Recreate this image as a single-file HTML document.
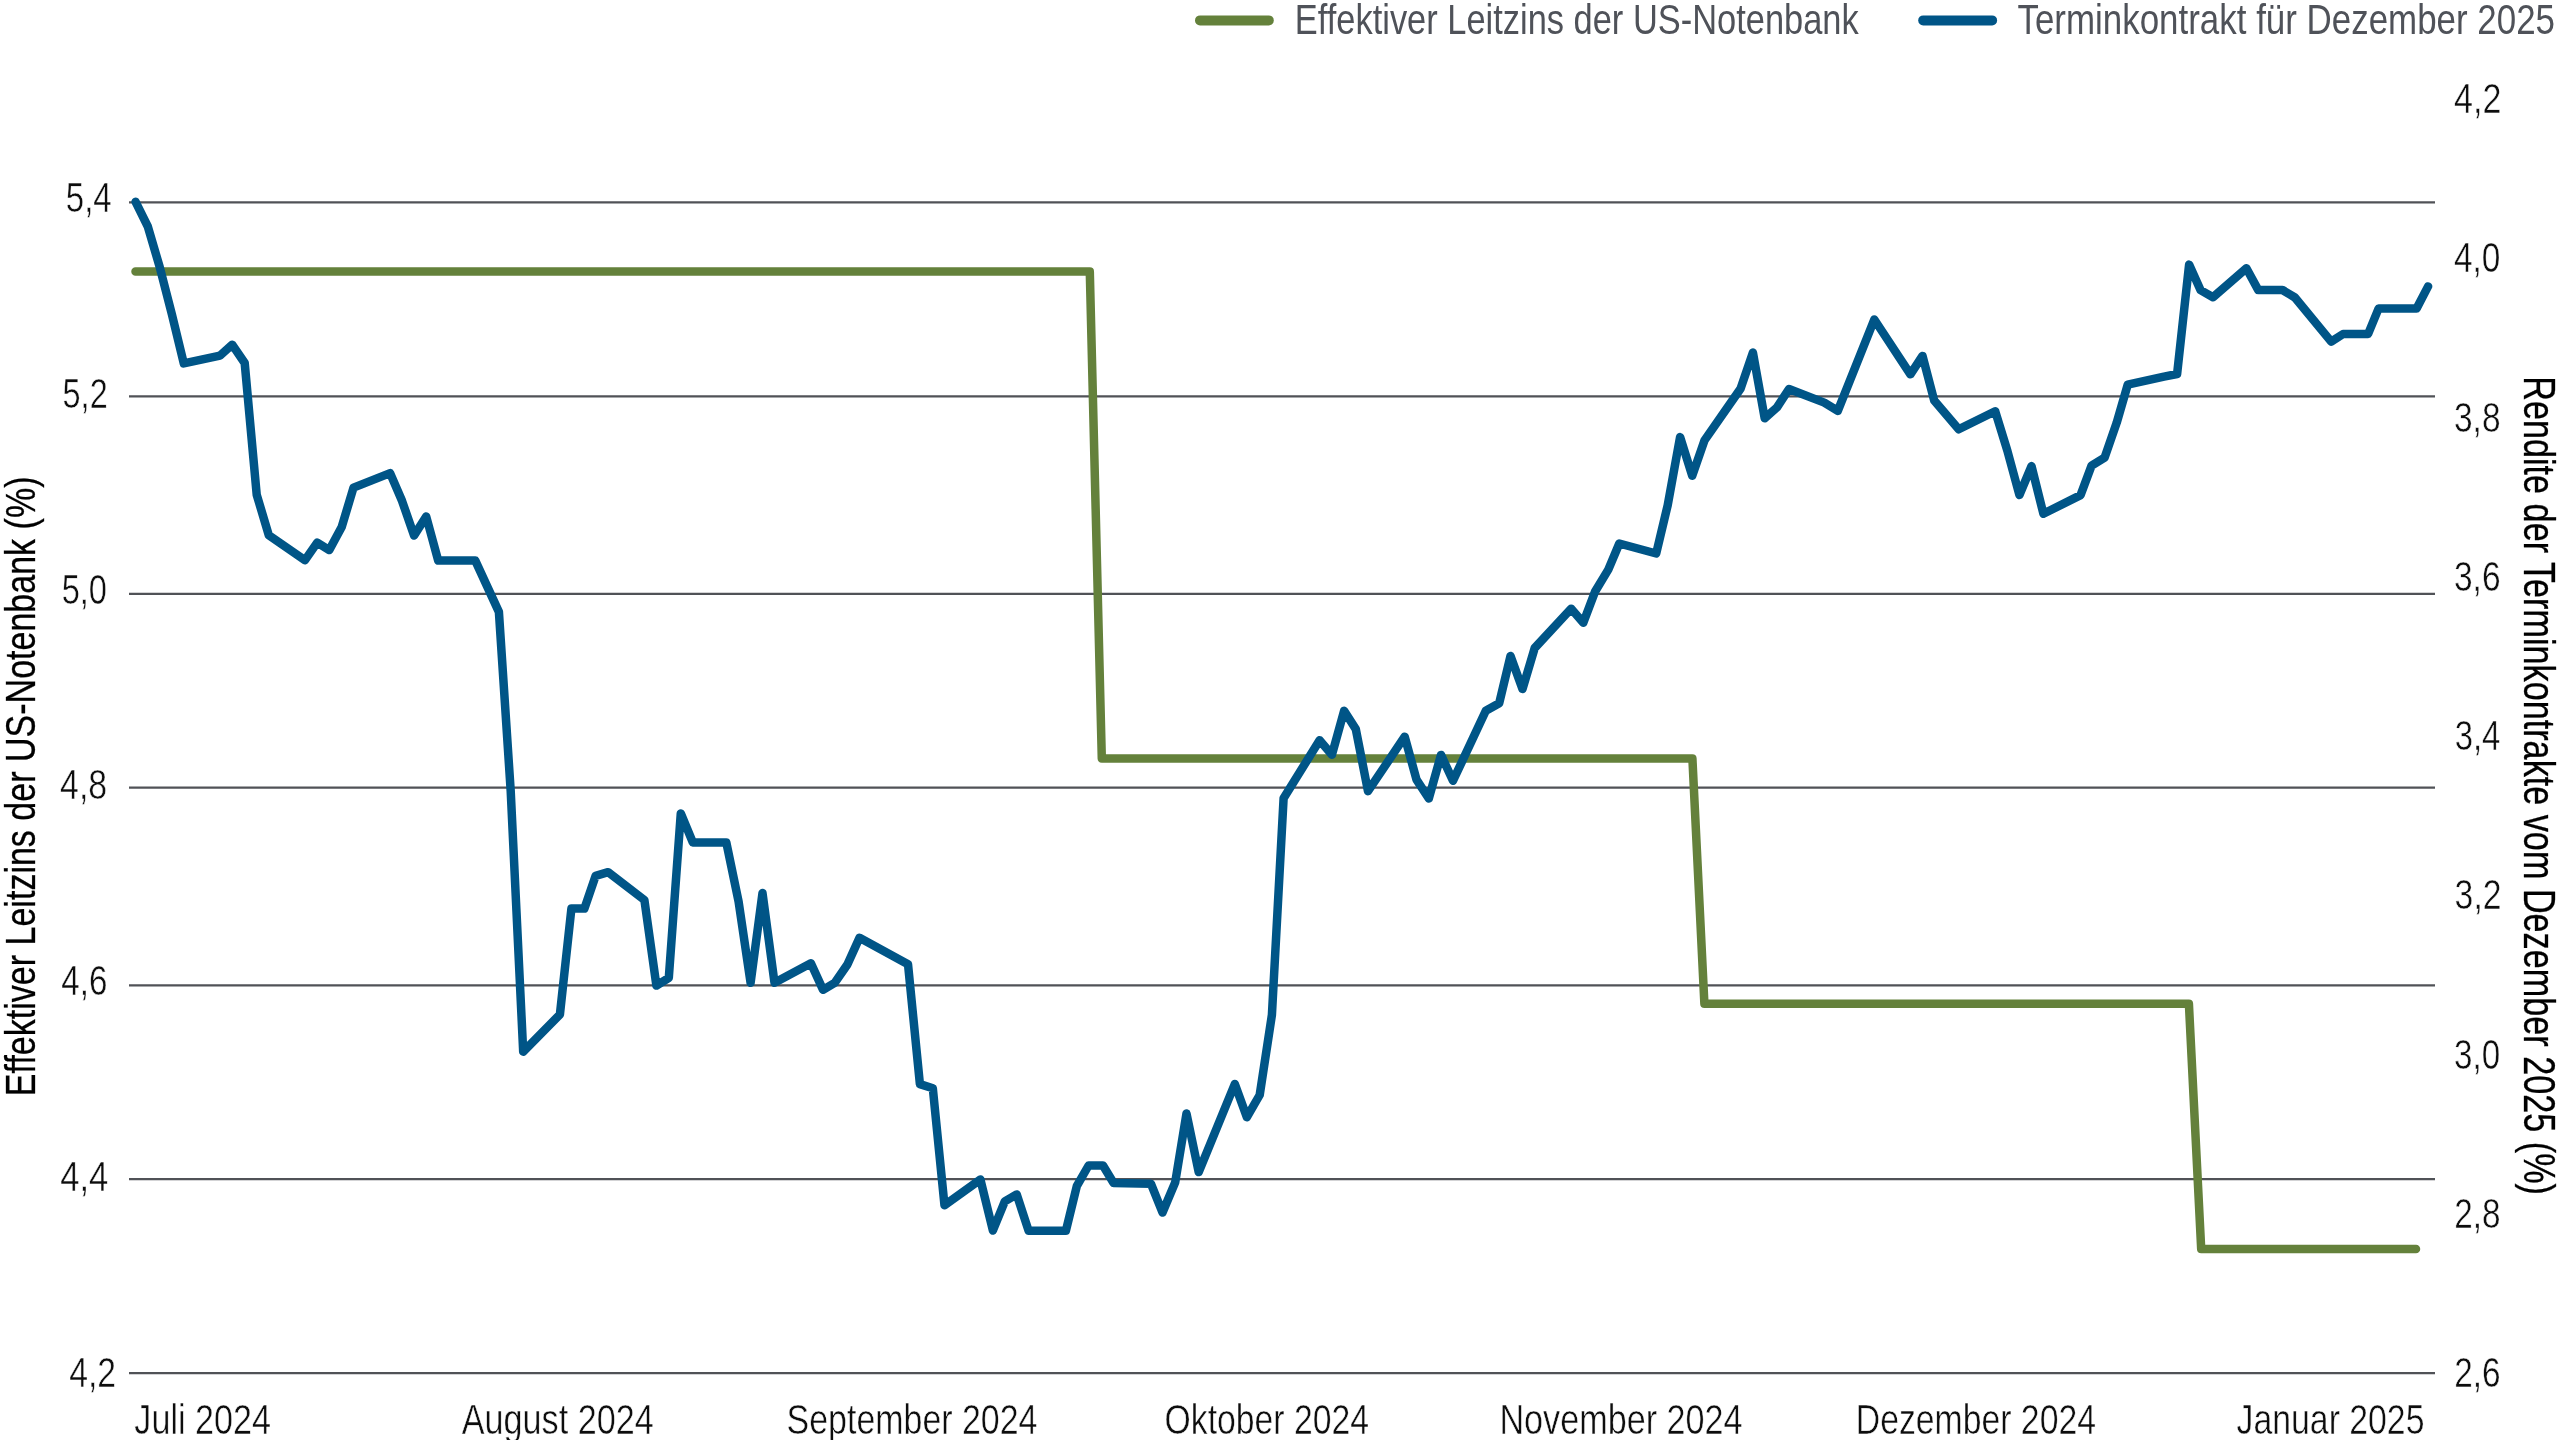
<!DOCTYPE html>
<html lang="de">
<head>
<meta charset="utf-8">
<title>Effektiver Leitzins der US-Notenbank und Terminkontrakt für Dezember 2025</title>
<style>
html,body{margin:0;padding:0;background:#fff;}
body{width:2560px;height:1440px;overflow:hidden;}
svg{display:block;will-change:transform;}
text{font-family:"Liberation Sans",sans-serif;}
.lg{fill:#4f5259;}
.tk{fill:#0d0d0d;stroke:#fff;stroke-width:0.5px;}
.ti{fill:#000;stroke:#000;stroke-width:0.3px;}
.grid line{stroke:#505257;stroke-width:2.2;}
</style>
</head>
<body>
<svg width="2560" height="1440" viewBox="0 0 2560 1440">
<rect width="2560" height="1440" fill="#ffffff"/>
<g class="grid">
<line x1="129.0" y1="202.30" x2="2435.0" y2="202.30"/>
<line x1="129.0" y1="396.30" x2="2435.0" y2="396.30"/>
<line x1="129.0" y1="593.90" x2="2435.0" y2="593.90"/>
<line x1="129.0" y1="787.60" x2="2435.0" y2="787.60"/>
<line x1="129.0" y1="985.40" x2="2435.0" y2="985.40"/>
<line x1="129.0" y1="1179.10" x2="2435.0" y2="1179.10"/>
<line x1="129.0" y1="1373.20" x2="2435.0" y2="1373.20"/>
</g>
<line x1="1200" y1="20.4" x2="1268.8" y2="20.4" stroke="#64813b" stroke-width="10" stroke-linecap="round"/>
<line x1="1923.2" y1="20.4" x2="1992.1" y2="20.4" stroke="#005587" stroke-width="10" stroke-linecap="round"/>
<path d="M135.5,271.6 L1089.8,271.6 L1101.8,758.5 L1692.4,758.5 L1704.4,1003.8 L2188.9,1003.8 L2201.2,1249.0 L2416.0,1249.0" fill="none" stroke="#64813b" stroke-width="8.5" stroke-linecap="round" stroke-linejoin="round"/>
<path d="M135.6,201.8 L147.8,226.5 L159.7,267.0 L171.8,314.0 L183.8,363.4 L220.0,355.6 L232.2,344.7 L244.7,363.0 L256.7,494.7 L268.8,535.3 L305.0,560.2 L317.2,542.6 L329.3,550.1 L341.7,527.0 L353.5,487.6 L390.1,473.1 L402.0,500.8 L414.1,535.6 L426.2,516.5 L438.2,560.6 L475.3,560.6 L498.9,611.9 L510.7,791.0 L523.2,1051.7 L559.9,1014.5 L571.4,908.6 L584.4,908.6 L595.6,875.8 L608.1,872.2 L644.4,900.0 L656.4,985.6 L668.8,977.8 L680.8,813.4 L692.8,842.4 L726.3,842.4 L738.6,901.6 L750.6,982.8 L762.5,893.0 L774.5,982.8 L810.9,963.3 L823.0,989.8 L834.7,982.8 L847.4,964.5 L859.5,937.8 L908.0,964.2 L919.9,1084.1 L932.8,1088.2 L944.5,1205.3 L980.4,1179.5 L992.9,1230.5 L1004.8,1201.4 L1016.7,1194.4 L1028.6,1230.7 L1065.9,1230.7 L1076.9,1185.8 L1088.6,1165.5 L1103.0,1165.5 L1113.6,1183.0 L1150.9,1183.7 L1162.5,1212.5 L1175.2,1182.4 L1186.5,1113.5 L1198.7,1172.1 L1234.8,1084.0 L1246.9,1117.2 L1259.7,1095.0 L1271.9,1015.0 L1283.6,798.3 L1319.6,740.2 L1331.9,754.8 L1344.1,710.8 L1355.8,729.1 L1368.0,791.2 L1404.7,736.7 L1416.5,779.6 L1428.8,798.5 L1441.0,754.9 L1453.0,780.8 L1485.8,710.8 L1499.2,703.3 L1510.5,656.0 L1522.5,689.0 L1534.7,648.0 L1571.2,608.7 L1583.3,622.8 L1595.1,591.5 L1608.3,569.6 L1619.3,543.5 L1656.2,553.5 L1667.7,505.2 L1680.1,437.1 L1692.2,475.8 L1704.5,440.4 L1740.5,388.8 L1752.9,352.5 L1764.7,418.2 L1777.0,407.4 L1789.0,389.0 L1824.3,402.6 L1837.8,410.9 L1874.3,319.5 L1910.4,374.3 L1922.5,355.9 L1934.2,400.5 L1958.7,429.3 L1995.2,411.2 L2007.3,450.5 L2019.4,495.0 L2031.5,466.1 L2043.4,513.8 L2080.6,495.1 L2091.6,465.6 L2104.6,457.6 L2116.7,422.7 L2127.7,384.7 L2164.0,376.6 L2177.1,374.0 L2189.1,264.6 L2200.5,290.1 L2213.0,297.2 L2246.4,268.2 L2258.3,290.1 L2282.5,290.0 L2294.9,297.5 L2331.2,341.6 L2343.1,334.0 L2368.1,334.0 L2378.6,308.5 L2416.6,308.5 L2428.1,286.4" fill="none" stroke="#005587" stroke-width="8.5" stroke-linecap="round" stroke-linejoin="round"/>
<text id="lg1" class="lg" x="1294.86" y="34.25" font-size="42.00" textLength="563.85" lengthAdjust="spacingAndGlyphs">Effektiver Leitzins der US-Notenbank</text>
<text id="lg2" class="lg" x="2017.48" y="34.25" font-size="42.00" textLength="537.58" lengthAdjust="spacingAndGlyphs">Terminkontrakt für Dezember 2025</text>
<text id="yl0" class="tk" x="65.79" y="211.90" font-size="43.00" textLength="45.89" lengthAdjust="spacingAndGlyphs">5,4</text>
<text id="yl1" class="tk" x="62.59" y="407.70" font-size="43.00" textLength="45.09" lengthAdjust="spacingAndGlyphs">5,2</text>
<text id="yl2" class="tk" x="61.70" y="603.50" font-size="43.00" textLength="45.23" lengthAdjust="spacingAndGlyphs">5,0</text>
<text id="yl3" class="tk" x="60.10" y="799.30" font-size="43.00" textLength="46.99" lengthAdjust="spacingAndGlyphs">4,8</text>
<text id="yl4" class="tk" x="61.26" y="995.10" font-size="43.00" textLength="46.05" lengthAdjust="spacingAndGlyphs">4,6</text>
<text id="yl5" class="tk" x="60.16" y="1190.90" font-size="43.00" textLength="48.10" lengthAdjust="spacingAndGlyphs">4,4</text>
<text id="yl6" class="tk" x="69.20" y="1386.70" font-size="43.00" textLength="46.90" lengthAdjust="spacingAndGlyphs">4,2</text>
<text id="yr0" class="tk" x="2454.07" y="113.00" font-size="43.00" textLength="47.32" lengthAdjust="spacingAndGlyphs">4,2</text>
<text id="yr1" class="tk" x="2454.03" y="272.25" font-size="43.00" textLength="46.39" lengthAdjust="spacingAndGlyphs">4,0</text>
<text id="yr2" class="tk" x="2453.99" y="431.50" font-size="43.00" textLength="46.53" lengthAdjust="spacingAndGlyphs">3,8</text>
<text id="yr3" class="tk" x="2453.99" y="590.75" font-size="43.00" textLength="46.51" lengthAdjust="spacingAndGlyphs">3,6</text>
<text id="yr4" class="tk" x="2454.69" y="750.00" font-size="43.00" textLength="45.69" lengthAdjust="spacingAndGlyphs">3,4</text>
<text id="yr5" class="tk" x="2454.62" y="909.25" font-size="43.00" textLength="46.93" lengthAdjust="spacingAndGlyphs">3,2</text>
<text id="yr6" class="tk" x="2454.04" y="1068.50" font-size="43.00" textLength="46.10" lengthAdjust="spacingAndGlyphs">3,0</text>
<text id="yr7" class="tk" x="2454.26" y="1227.75" font-size="43.00" textLength="46.29" lengthAdjust="spacingAndGlyphs">2,8</text>
<text id="yr8" class="tk" x="2454.28" y="1387.00" font-size="43.00" textLength="46.35" lengthAdjust="spacingAndGlyphs">2,6</text>
<text id="xl0" class="tk" x="134.36" y="1433.75" font-size="42.00" textLength="136.63" lengthAdjust="spacingAndGlyphs">Juli 2024</text>
<text id="xl1" class="tk" x="461.80" y="1433.75" font-size="42.00" textLength="191.84" lengthAdjust="spacingAndGlyphs">August 2024</text>
<text id="xl2" class="tk" x="786.61" y="1433.75" font-size="42.00" textLength="250.88" lengthAdjust="spacingAndGlyphs">September 2024</text>
<text id="xl3" class="tk" x="1164.54" y="1433.75" font-size="42.00" textLength="204.39" lengthAdjust="spacingAndGlyphs">Oktober 2024</text>
<text id="xl4" class="tk" x="1499.40" y="1433.75" font-size="42.00" textLength="243.19" lengthAdjust="spacingAndGlyphs">November 2024</text>
<text id="xl5" class="tk" x="1855.81" y="1433.75" font-size="42.00" textLength="240.15" lengthAdjust="spacingAndGlyphs">Dezember 2024</text>
<text id="xl6" class="tk" x="2236.58" y="1433.75" font-size="42.00" textLength="187.89" lengthAdjust="spacingAndGlyphs">Januar 2025</text>
<text id="tl" class="ti" transform="translate(35.00,1093.75) rotate(-90)" x="-2.38" y="0" font-size="43.00" textLength="619.63" lengthAdjust="spacingAndGlyphs">Effektiver Leitzins der US-Notenbank (%)</text>
<text id="tr" class="ti" transform="translate(2523.75,378.75) rotate(90)" x="-2.56" y="0" font-size="44.00" textLength="818.78" lengthAdjust="spacingAndGlyphs">Rendite der Terminkontrakte vom Dezember 2025 (%)</text>
</svg>
</body>
</html>
